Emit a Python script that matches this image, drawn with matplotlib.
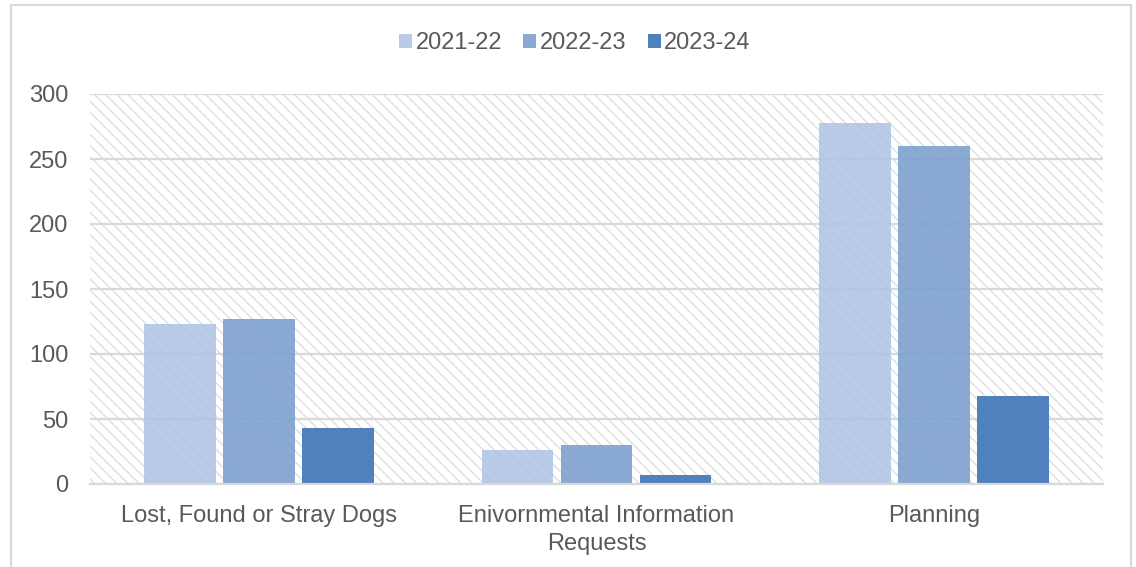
import matplotlib
matplotlib.use("Agg")
import matplotlib.pyplot as plt
from matplotlib.patches import Rectangle
import numpy as np

categories = ["Lost, Found or Stray Dogs", "Enivornmental Information\nRequests", "Planning"]
series_names = ["2021-22", "2022-23", "2023-24"]
v2021 = [123, 26, 278]
v2022 = [127, 30, 260]
v2023 = [43, 7, 68]
yticks = [0, 50, 100, 150, 200, 250, 300]

colors = ["#b0c4e4", "#7a9fcf", "#4f81bd"]
alphas = [0.88, 0.88, 1.0]

plt.rcParams['font.family'] = ['Liberation Sans', 'DejaVu Sans']
plt.rcParams['hatch.linewidth'] = 0.9

W, H = 1136, 567
fig = plt.figure(figsize=(W/100, H/100), dpi=100)
ax = fig.add_axes([90/W, 1-484/H, (1103-90)/W, (484-94)/H])

# figure border
fig.patches.append(Rectangle((11/W, -0.05), (1131-11)/W, 1.05 - 5/H, transform=fig.transFigure,
                             fill=False, edgecolor="#d9d9d9", linewidth=1.5, zorder=0))

# hatched plot area background
ax.add_patch(Rectangle((0, 0), 1, 1, transform=ax.transAxes, facecolor="white",
                       edgecolor="#dcdcdc", hatch="\\" * 3, linewidth=0, zorder=0))

x = np.arange(len(categories))
bw = 0.213
offs = [-0.234, 0.0, 0.234]
for vals, name, c, a, o in zip([v2021, v2022, v2023], series_names, colors, alphas, offs):
    ax.bar(x + o, vals, width=bw, color=c, alpha=a, label=name, zorder=2)

ax.set_xlim(-0.5, 2.5)
ax.set_ylim(0, 300)
ax.set_yticks(yticks)
ax.yaxis.grid(True, color="#d9d9d9", linewidth=1.6)
for gl in ax.yaxis.get_gridlines():
    gl.set_zorder(1)
for s in ["top", "right", "left"]:
    ax.spines[s].set_visible(False)
ax.spines["bottom"].set_color("#d9d9d9")
ax.spines["bottom"].set_linewidth(1.6)
ax.spines["bottom"].set_zorder(3)
ax.tick_params(axis="both", length=0, labelsize=17, colors="#595959")
ax.tick_params(axis="y", pad=15.5)
ax.tick_params(axis="x", pad=15)
ax.set_xticks(x)
ax.set_xticklabels(categories, linespacing=1.35)

leg = fig.legend(loc="center", bbox_to_anchor=(575/W, 1-43/H), ncol=3, frameon=False,
                 fontsize=17, handlelength=0.55, handleheight=0.55, handletextpad=0.15,
                 columnspacing=0.9)
for t in leg.get_texts():
    t.set_color("#595959")

fig.savefig("out.png", dpi=100)
